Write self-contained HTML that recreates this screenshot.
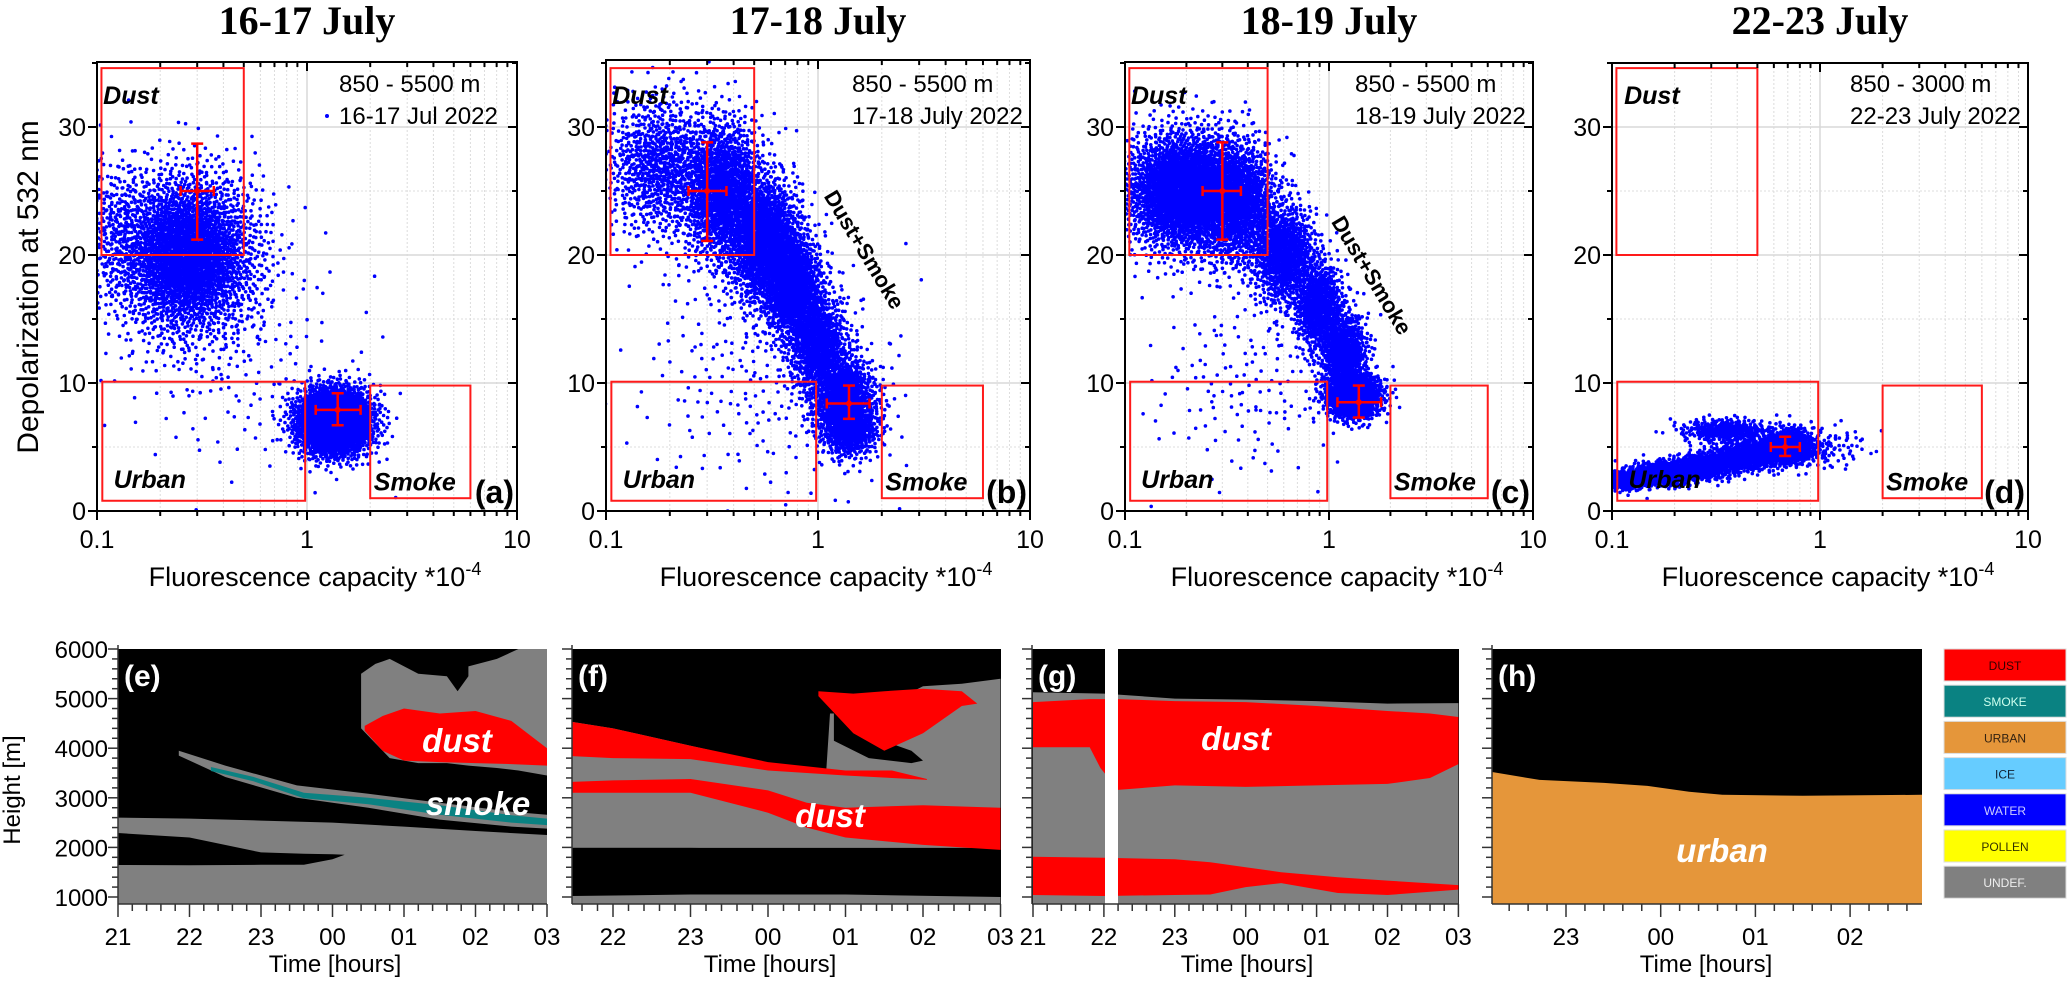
<!DOCTYPE html>
<html><head><meta charset="utf-8"><style>
html,body{margin:0;padding:0;background:#fff;}
svg{display:block;font-family:"Liberation Sans",Arial,sans-serif;}
</style></head><body>
<svg id="fig" width="2067" height="981" viewBox="0 0 2067 981" xmlns="http://www.w3.org/2000/svg">
<defs>
<clipPath id="clipA"><rect x="97" y="62" width="420" height="449"/></clipPath>
<clipPath id="clipB"><rect x="606" y="60" width="424" height="451"/></clipPath>
<clipPath id="clipC"><rect x="1125" y="62" width="408" height="449"/></clipPath>
<clipPath id="clipD"><rect x="1612" y="63" width="416" height="448"/></clipPath>
</defs>
<g id="top"></g>
<g id="bottom"></g>
</svg>
<script>
const panelTitles = ["16-17 July","17-18 July","18-19 July","22-23 July"];
const panelLetters = ["(a)","(b)","(c)","(d)"];
const rangeLabels = ["850 - 5500 m","850 - 5500 m","850 - 5500 m","850 - 3000 m"];
const dateLabels = ["16-17 Jul 2022","17-18 July 2022","18-19 July 2022","22-23 July 2022"];
const xTickValues = [0.1, 1, 10];
const xTickLabels = ["0.1","1","10"];
const yTickValues = [0, 10, 20, 30];
const dustBox = [0.105, 0.5, 20, 34.6];
const urbanBox = [0.106, 0.98, 0.8, 10.1];
const smokeBox = [2.0, 6.0, 1.0, 9.8];

const aLogX = [-0.57, 0.13, -0.35, -0.9];
const aY    = [20.0, 7.0, 12.0, 22.0];
const aSdX  = [0.17, 0.09, 0.30, 0.08];
const aSdY  = [3.2, 1.3, 4.5, 3.0];
const aN    = [2800, 2800, 160, 250];

const bLogX = [-0.75, -0.45, -0.25, -0.12, 0.0, 0.12, 0.15, -0.25];
const bY    = [27.0, 25.0, 21.0, 17.5, 13.0, 9.0, 6.5, 11.0];
const bSdX  = [0.13, 0.10, 0.09, 0.07, 0.07, 0.08, 0.07, 0.30];
const bSdY  = [2.8, 2.8, 2.5, 2.0, 2.0, 1.6, 1.2, 5.0];
const bN    = [900, 1500, 1500, 1100, 900, 900, 600, 250];

const cLogX = [-0.7, -0.45, -0.22, -0.05, 0.07, 0.12, -0.4];
const cY    = [25.0, 24.0, 20.0, 16.0, 12.5, 9.0, 10.0];
const cSdX  = [0.16, 0.10, 0.08, 0.06, 0.06, 0.07, 0.25];
const cSdY  = [2.4, 2.4, 2.0, 1.8, 1.6, 0.9, 4.0];
const cN    = [2600, 1200, 900, 700, 700, 1100, 150];

const dLogX = [-0.93, -0.75, -0.55, -0.35, -0.17, -0.45, -0.15, 0.05];
const dY    = [2.4, 2.9, 3.5, 4.3, 4.8, 6.3, 5.4, 5.0];
const dSdX  = [0.05, 0.08, 0.08, 0.08, 0.08, 0.11, 0.06, 0.10];
const dSdY  = [0.35, 0.45, 0.5, 0.55, 0.6, 0.45, 0.6, 0.9];
const dN    = [500, 700, 600, 600, 700, 350, 250, 80];

const aErr = [[0.3,25,0.25,0.36,21.2,28.7],[1.4,7.9,1.1,1.8,6.7,9.2]];
const bErr = [[0.3,25,0.245,0.37,21.1,28.8],[1.4,8.4,1.1,1.75,7.2,9.8]];
const cErr = [[0.3,25,0.24,0.37,21.2,28.8],[1.4,8.5,1.1,1.8,7.3,9.8]];
const dErr = [[0.68,5.0,0.58,0.8,4.3,5.8]];

const panels = [
 {l:97,r:517,top:62,clip:"clipA",lx:aLogX,y:aY,sx:aSdX,sy:aSdY,n:aN,err:aErr,mix:false},
 {l:606,r:1030,top:60,clip:"clipB",lx:bLogX,y:bY,sx:bSdX,sy:bSdY,n:bN,err:bErr,mix:true},
 {l:1125,r:1533,top:62,clip:"clipC",lx:cLogX,y:cY,sx:cSdX,sy:cSdY,n:cN,err:cErr,mix:true},
 {l:1612,r:2028,top:63,clip:"clipD",lx:dLogX,y:dY,sx:dSdX,sy:dSdY,n:dN,err:dErr,mix:false}
];

const eT = [0,1,2,3,4,5,6];
const eGrayTop = [2600,2580,2540,2500,2420,2330,2250];
const eHoleT = [0,1,2,2.6,3.0,3.17];
const eHoleTop = [2290,2200,1900,1870,1860,1850];
const eHoleBot = [1645,1640,1650,1650,1760,1850];
const eSmokeGT = [0.85,1.5,2.5,3.5,4.5,5.5,6];
const eSmokeGTop = [3950,3650,3250,3080,2900,2720,2660];
const eSmokeGBot = [3850,3420,3000,2800,2560,2420,2380];
const eSmokeT = [1.3,1.9,2.6,3.5,4.5,5.5,6];
const eSmokeTop = [3620,3420,3100,3000,2850,2650,2580];
const eSmokeBot = [3540,3330,2990,2870,2660,2500,2450];
const eCloudT = [3.4,3.6,3.8,4.2,4.6,4.9,5.3,5.6,6];
const eCloudTop = [5500,5700,5800,5500,5450,5650,5800,6000,6000];
const eCloudBot = [4400,4100,3800,3700,3700,3650,3600,3550,3450];
const eNotchT = [4.6,4.75,4.9];
const eNotchTop = [5600,5650,5700];
const eNotchBot = [5450,5150,5450];
const eDustT = [3.45,3.7,4.0,4.5,5.0,5.5,6];
const eDustTop = [4450,4650,4800,4700,4750,4550,4000];
const eDustBot = [4350,3950,3750,3720,3700,3680,3650];

const fT = [0.47,1,2,3,3.5,3.75,3.8,4.3,5,5.5,6];
const fGrayTop = [4530,4400,4050,3700,3600,3500,4700,4700,5250,5300,5400];
const fNotchT = [3.85,4.3,4.85,5.0];
const fNotchTop = [4750,4250,3950,3750];
const fNotchBot = [4150,3800,3700,3750];
const fRedUT = [0.47,1,2,3,4,4.6,5.05];
const fRedUTop = [4530,4400,4050,3720,3550,3550,3380];
const fRedUBot = [3840,3800,3780,3550,3450,3400,3360];
const fCloudT = [3.65,4.1,4.5,5,5.5,5.7];
const fCloudTop = [5150,5100,5150,5200,5150,4900];
const fCloudBot = [5050,4300,3950,4300,4850,4900];
const fRedLT = [0.47,1,2,3,3.5,4,5,6];
const fRedLTop = [3320,3350,3380,3150,2900,2800,2850,2800];
const fRedLBot = [3100,3100,3100,2700,2400,2200,2050,1950];
const fBlackT = [0.47,2,4,6];
const fBlackTop = [1990,1990,1950,1900];
const fBlackBot = [1020,1050,1050,1000];

const gT = [0,1,2,3,4,5,6];
const gGrayTop = [5130,5100,5000,4980,4950,4900,4910];
const gRedUT = [0,0.8,0.95,1.2,2,3,4,5,5.6,6];
const gRedUTop = [4930,4990,4990,4990,4950,4930,4850,4750,4700,4630];
const gRedUBot = [4020,4020,3600,3160,3250,3220,3250,3280,3400,3680];
const gRedLT = [0,1,2,2.5,3,3.5,4.3,5,6];
const gRedLTop = [1810,1790,1760,1700,1600,1500,1400,1330,1240];
const gRedLBot = [1040,1020,1040,1050,1200,1280,1080,1040,1150];

const hT = [1.22,1.72,2.4,2.86,3.3,3.65,4.5,5.77];
const hUrbanTop = [3520,3360,3300,3240,3120,3060,3040,3060];

const hourLabels = ["21","22","23","00","01","02","03"];
const legendLabels = ["DUST","SMOKE","URBAN","ICE","WATER","POLLEN","UNDEF."];
const legendColors = ["#ff0000","#0a8282","#e5963a","#66ccff","#0000ff","#ffff00","#808080"];
const legendTextColors = ["#300","#cfe","#321","#123","#ccf","#330","#eee"];

const NS="http://www.w3.org/2000/svg";
function mk(tag, attrs, parent){const e=document.createElementNS(NS,tag);for(const k in attrs)e.setAttribute(k,attrs[k]);if(parent)parent.appendChild(e);return e;}
function halton(i,b){let f=1,r=0;while(i>0){f/=b;r+=f*(i%b);i=Math.floor(i/b);}return r;}

const topG=document.getElementById('top');
const Y0=511, PXU=12.8;

panels.forEach((p,pi)=>{
  const g=mk('g',{},topG);
  
  
  const dec=(p.r-p.l)/2;
  const xs=v=>p.l+(Math.log10(v)+1)*dec;
  const xl=lv=>p.l+(lv+1)*dec;
  const ys=v=>Y0-v*PXU;
  const grid=mk('g',{},g);
  
  
  for(let d=0;d<2;d++)for(let m=2;m<=9;m++){const v=Math.pow(10,d-1)*m;
    mk('line',{x1:xs(v),x2:xs(v),y1:p.top,y2:Y0,stroke:'#dcdcdc','stroke-width':1,'stroke-dasharray':'2,2'},grid);}
  mk('line',{x1:xs(1),x2:xs(1),y1:p.top,y2:Y0,stroke:'#d8d8d8','stroke-width':1.5},grid);
  [5,15,25].forEach(v=>mk('line',{x1:p.l,x2:p.r,y1:ys(v),y2:ys(v),stroke:'#dcdcdc','stroke-width':1,'stroke-dasharray':'2,2'},grid));
  [10,20,30].forEach(v=>mk('line',{x1:p.l,x2:p.r,y1:ys(v),y2:ys(v),stroke:'#d8d8d8','stroke-width':1.5},grid));
  const pg=mk('g',{'clip-path':'url(#'+p.clip+')'},g);
  
  
  const r=1.8;
  p.n.forEach((n,k)=>{
    let d='';
    for(let i=1;i<=n;i++){
      const idx=i+k*7919+pi*31;
      const u1=Math.max(1e-6,halton(idx,2)), u2=halton(idx,3);
      const rad=Math.sqrt(-2*Math.log(u1));
      const zx=rad*Math.cos(2*Math.PI*u2), zy=rad*Math.sin(2*Math.PI*u2);
      const X=xl(p.lx[k]+p.sx[k]*zx), Y=ys(p.y[k]+p.sy[k]*zy);
      d+='M'+(X-r).toFixed(1)+' '+Y.toFixed(1)+'a'+r+' '+r+' 0 1 0 '+(2*r)+' 0a'+r+' '+r+' 0 1 0 '+(-2*r)+' 0';
    }
    const path=mk('path',{d:d,fill:'#0000ff'},pg);
    
    
  });
  [[dustBox,'dust-region-box'],[urbanBox,'urban-region-box'],[smokeBox,'smoke-region-box']].forEach(([b,nm])=>{
    const rc=mk('rect',{x:xs(b[0]),y:ys(b[3]),width:xs(b[1])-xs(b[0]),height:ys(b[2])-ys(b[3]),fill:'none',stroke:'#ff1a1a','stroke-width':2},g);
    
    
  });
  p.err.forEach((e,k)=>{
    const eg=mk('g',{stroke:'#ff0000','stroke-width':2.5,fill:'none'},g);
    
    
    const cx=xs(e[0]),cy=ys(e[1]);
    mk('line',{x1:xs(e[2]),x2:xs(e[3]),y1:cy,y2:cy},eg);
    mk('line',{x1:cx,x2:cx,y1:ys(e[4]),y2:ys(e[5])},eg);
    mk('line',{x1:xs(e[2]),x2:xs(e[2]),y1:cy-5,y2:cy+5},eg);
    mk('line',{x1:xs(e[3]),x2:xs(e[3]),y1:cy-5,y2:cy+5},eg);
    mk('line',{x1:cx-6,x2:cx+6,y1:ys(e[4]),y2:ys(e[4])},eg);
    mk('line',{x1:cx-6,x2:cx+6,y1:ys(e[5]),y2:ys(e[5])},eg);
    mk('circle',{cx:cx,cy:cy,r:3,fill:'#ff0000',stroke:'none'},eg);
  });
  const ax=mk('g',{stroke:'#000','stroke-width':2,fill:'none'},g);
  
  
  mk('rect',{x:p.l,y:p.top,width:p.r-p.l,height:Y0-p.top},ax);
  for(let d=0;d<2;d++)for(let m=1;m<=9;m++){const v=Math.pow(10,d-1)*m;const x=xs(v);const L=m==1?9:5;
    mk('line',{x1:x,x2:x,y1:Y0,y2:Y0+L},ax);mk('line',{x1:x,x2:x,y1:p.top,y2:p.top+L},ax);}
  mk('line',{x1:p.r,x2:p.r,y1:Y0,y2:Y0+9},ax);
  for(let v=0;v<=35;v+=5){const L=v%10==0?9:5;const y=ys(v);
    mk('line',{x1:p.l-L,x2:p.l,y1:y,y2:y},ax);mk('line',{x1:p.r-L,x2:p.r,y1:y,y2:y},ax);}
  xTickValues.forEach((v,i)=>{const t=mk('text',{x:xs(v),y:548,'font-size':25,'text-anchor':'middle',fill:'#000'},g);t.textContent=xTickLabels[i];
    });
  yTickValues.forEach(v=>{const t=mk('text',{x:p.l-11,y:ys(v)+9,'font-size':25,'text-anchor':'end',fill:'#000'},g);t.textContent=v;
    });
  const xt=mk('text',{x:(p.l+p.r)/2+8,y:586,'font-size':27,'text-anchor':'middle',fill:'#000'},g);
  xt.innerHTML='Fluorescence capacity *10<tspan dy="-11" font-size="18">-4</tspan>';
  
  
  const tt=mk('text',{x:(p.l+p.r)/2,y:34,'font-size':40,'font-weight':'bold','text-anchor':'middle','font-family':'"Liberation Serif",serif',fill:'#000'},g);
  tt.textContent=panelTitles[pi];
  
  
  const l1=mk('text',{x:p.r-178,y:92,'font-size':24,fill:'#000'},g);l1.textContent=rangeLabels[pi];
  
  const l2=mk('text',{x:p.r-178,y:124,'font-size':24,fill:'#000'},g);l2.textContent=dateLabels[pi];
  
  if(pi==0){const dot=mk('circle',{cx:p.r-190,cy:116,r:2,fill:'#0000ff'},g);
    }
  const dl=mk('text',{x:xs(0.107)+(pi==3?6:0),y:ys(31.8),'font-size':25,'font-weight':'bold','font-style':'italic',fill:'#000'},g);dl.textContent='Dust';
  
  const ul=mk('text',{x:xs(0.12),y:ys(1.8),'font-size':25,'font-weight':'bold','font-style':'italic',fill:'#000'},g);ul.textContent='Urban';
  
  const sl=mk('text',{x:xs(2.08),y:ys(1.6),'font-size':25,'font-weight':'bold','font-style':'italic',fill:'#000'},g);sl.textContent='Smoke';
  
  const pl=mk('text',{x:p.r-3,y:503,'font-size':32,'font-weight':'bold','text-anchor':'end',fill:'#000'},g);pl.textContent=panelLetters[pi];
  
  if(p.mix){const ax0=xs(pi==1?1.06:1.02), ay0=ys(pi==1?24.6:22.6);
    const mt=mk('text',{x:ax0,y:ay0,'font-size':22,'font-weight':'bold',fill:'#000',transform:'rotate(59 '+ax0+' '+ay0+')'},g);
    mt.textContent='Dust+Smoke';}
});
const yt=mk('text',{x:0,y:0,'font-size':30,'text-anchor':'middle',fill:'#000',transform:'translate(38 287) rotate(-90)'},topG);
yt.textContent='Depolarization at  532 nm';



const botG=document.getElementById('bottom');
const HT=649, HB=904, HPX=0.0496;
const hy=h=>Math.min(HB,HT+(6000-h)*HPX);
const C={red:'#ff0000',gray:'#808080',teal:'#0a8282',urban:'#e5963a',black:'#000'};
const bp=[
 {l:118,r:547,t0:118,hr:71.5,letter:'(e)'},
 {l:572,r:1001,t0:535.5,hr:77.5,letter:'(f)'},
 {l:1032,r:1459,t0:1033,hr:70.9,letter:'(g)'},
 {l:1492,r:1922,t0:1376.6,hr:94.7,letter:'(h)'}
];
function band(g,P,ts,tops,bots,color,name){
  const tx=t=>Math.max(P.l,Math.min(P.r,P.t0+t*P.hr));
  let d='M';
  ts.forEach((t,i)=>{d+=tx(t).toFixed(1)+' '+hy(tops[i]).toFixed(1)+' L';});
  for(let i=ts.length-1;i>=0;i--){const b=Array.isArray(bots)?bots[i]:bots;d+=tx(ts[i]).toFixed(1)+' '+hy(b).toFixed(1)+(i?' L':' Z');}
  const e=mk('path',{d:d,fill:color},g);
  
  
}
bp.forEach((P,pi)=>{
  const g=mk('g',{},botG);
  
  
  const bg=mk('rect',{x:P.l,y:HT,width:P.r-P.l,height:HB-HT,fill:'#000'},g);
  
  
  if(pi==0){
    band(g,P,eT,eGrayTop,600,C.gray,'undefined-layer');
    band(g,P,eHoleT,eHoleTop,eHoleBot,C.black,'clear-gap');
    band(g,P,eSmokeGT,eSmokeGTop,eSmokeGBot,C.gray,'smoke-edge-layer');
    band(g,P,eSmokeT,eSmokeTop,eSmokeBot,C.teal,'smoke-layer');
    band(g,P,eCloudT,eCloudTop,eCloudBot,C.gray,'upper-undefined-layer');
    band(g,P,eNotchT,eNotchTop,eNotchBot,C.black,'clear-notch');
    band(g,P,eDustT,eDustTop,eDustBot,C.red,'dust-layer');
  } else if(pi==1){
    band(g,P,fT,fGrayTop,1990,C.gray,'undefined-layer');
    band(g,P,fNotchT,fNotchTop,fNotchBot,C.black,'clear-notch');
    band(g,P,fRedUT,fRedUTop,fRedUBot,C.red,'upper-dust-layer');
    band(g,P,fCloudT,fCloudTop,fCloudBot,C.red,'dust-cloud');
    band(g,P,fRedLT,fRedLTop,fRedLBot,C.red,'lower-dust-layer');
    band(g,P,fBlackT,[1200,1200,1200,1200],600,C.gray,'near-ground-layer');
    band(g,P,fBlackT,fBlackTop,fBlackBot,C.black,'clear-layer');
  } else if(pi==2){
    band(g,P,gT,gGrayTop,600,C.gray,'undefined-layer');
    band(g,P,gRedUT,gRedUTop,gRedUBot,C.red,'upper-dust-layer');
    band(g,P,gRedLT,gRedLTop,gRedLBot,C.red,'lower-dust-layer');
    const gap=mk('rect',{x:1105,y:HT-1,width:13,height:HB-HT+2,fill:'#fff'},g);
    
  } else {
    band(g,P,hT,hUrbanTop,600,C.urban,'urban-layer');
  }
  const ax=mk('g',{stroke:'#333','stroke-width':1.5,fill:'none'},g);
  
  
  mk('line',{x1:P.l,x2:P.r,y1:HB,y2:HB},ax);
  mk('line',{x1:P.l,x2:P.l,y1:HT-4,y2:HB},ax);
  for(let h=1000;h<=6000;h+=200){const y=hy(h);const L=h%1000==0?10:6;mk('line',{x1:P.l-L,x2:P.l,y1:y,y2:y},ax);}
  for(let k=0;k<=60;k++){const t=k*0.2;const x=P.t0+t*P.hr;if(x<P.l-1||x>P.r+1)continue;
    const major=k%5==0;mk('line',{x1:x,x2:x,y1:HB,y2:HB+(major?13:7)},ax);
    if(major){const lab=mk('text',{x:x,y:945,'font-size':24,'text-anchor':'middle',fill:'#000',stroke:'none'},g);
      lab.textContent=hourLabels[k/5];}}
  const xt=mk('text',{x:(pi==0?335:pi==1?770:pi==2?1247:1706),y:972,'font-size':24,'text-anchor':'middle',fill:'#000'},g);
  xt.textContent='Time [hours]';
  
  
  const lt=mk('text',{x:P.l+6,y:686,'font-size':30,'font-weight':'bold',fill:'#fff'},g);
  lt.textContent=P.letter;
  
  
});
[6000,5000,4000,3000,2000,1000].forEach(h=>{const t=mk('text',{x:108,y:hy(h)+9,'font-size':24,'text-anchor':'end',fill:'#000'},botG);t.textContent=h;
  });
const ht=mk('text',{x:0,y:0,'font-size':24,'text-anchor':'middle',fill:'#000',transform:'translate(20 790) rotate(-90)'},botG);
ht.textContent='Height [m]';
[['dust',457,752],['smoke',478,815],['dust',830,827],['dust',1236,750],['urban',1722,862]].forEach(a=>{
  const t=mk('text',{x:a[1],y:a[2],'font-size':33,'font-weight':'bold','font-style':'italic','text-anchor':'middle',fill:'#fff'},botG);
  t.textContent=a[0];});
const lg=mk('g',{},botG);


legendLabels.forEach((lab,i)=>{
  const y=649+i*36.2;
  const r=mk('rect',{x:1944,y:y,width:122,height:32,fill:legendColors[i],stroke:'#ddd','stroke-width':1},lg);
  
  
  const t=mk('text',{x:2005,y:y+21,'font-size':12,'text-anchor':'middle',fill:legendTextColors[i]},lg);
  t.textContent=lab;
  
  
});
</script>
</body></html>
